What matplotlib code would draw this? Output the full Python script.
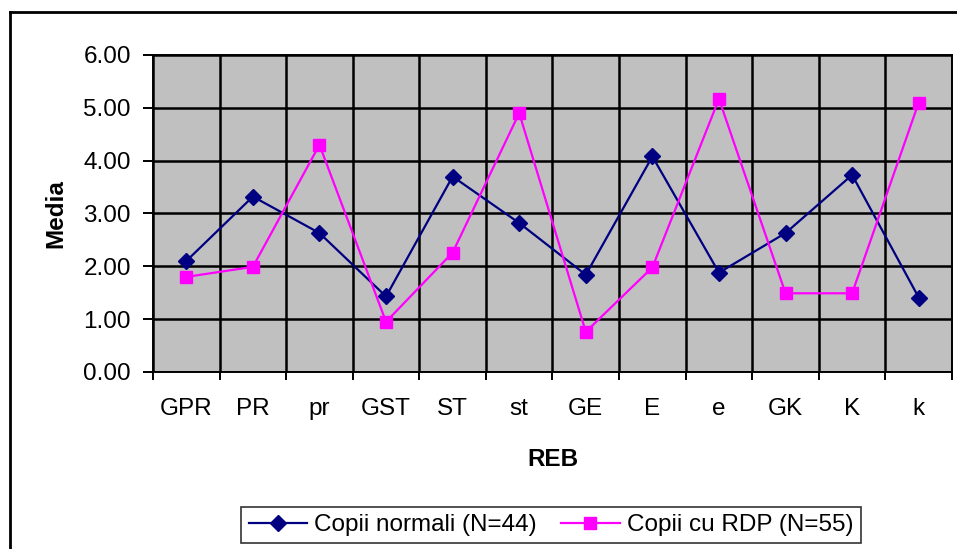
import matplotlib.pyplot as plt
import numpy as np

# Date
categorii = ['GPR', 'PR', 'pr', 'GST', 'ST', 'st', 'GE', 'E', 'e', 'GK', 'K', 'k']
normali = [2.10, 3.32, 2.63, 1.43, 3.70, 2.82, 1.84, 4.08, 1.88, 2.63, 3.73, 1.41]
rdp = [1.80, 1.99, 4.30, 0.95, 2.26, 4.90, 0.76, 1.98, 5.17, 1.49, 1.49, 5.10]
y_ticks = [0, 1, 2, 3, 4, 5, 6]

plt.rcParams['font.family'] = ['Liberation Sans', 'DejaVu Sans']
fs = 17.5

fig = plt.figure(figsize=(9.57, 5.49), dpi=100)
ax = fig.add_axes([153/957, 1-372/549, 799/957, 317/549])
ax.set_facecolor('#C0C0C0')

x = np.arange(len(categorii))
ax.plot(x, normali, color='#000080', linewidth=1.6, marker='D', markersize=8,
        label='Copii normali (N=44)', zorder=3)
ax.plot(x, rdp, color='#FF00FF', linewidth=1.6, marker='s', markersize=8.5,
        label='Copii cu RDP (N=55)', zorder=3)

ax.set_xlim(-0.5, len(categorii) - 0.5)
ax.set_ylim(0, 6)

# gridlines at category boundaries + horizontal
ax.set_xticks(np.arange(-0.5, len(categorii)), labels=[])
ax.set_xticks(x, labels=categorii, minor=True)
ax.tick_params(axis='x', which='major', direction='out', length=6, width=1.4, color='black')
ax.tick_params(axis='x', which='minor', length=0, pad=19, labelsize=fs)
ax.set_yticks(y_ticks, labels=['%.2f' % v for v in y_ticks])
ax.tick_params(axis='y', direction='out', length=7, width=1.4, pad=9, labelsize=fs)
ax.grid(True, which='major', color='black', linewidth=1.8)
ax.set_axisbelow(True)
for s in ax.spines.values():
    s.set_color('black')
    s.set_linewidth(1.4)

ax.set_ylabel('Media', fontsize=fs, fontweight='bold', labelpad=11)
ax.set_xlabel('REB', fontsize=fs, fontweight='bold', labelpad=20)

leg = fig.legend(loc='center', bbox_to_anchor=(551/957, 1-525/549), ncol=2,
                 fontsize=fs, frameon=True, fancybox=False, edgecolor='black',
                 handlelength=2.4, handletextpad=0.3, columnspacing=1.0,
                 borderpad=0.3)
leg.get_frame().set_linewidth(1.2)

# chart area border (left and top visible)
fig.add_artist(plt.Line2D([10/957, 10/957], [0, 1-12/549], color='black', linewidth=2))
fig.add_artist(plt.Line2D([10/957, 1], [1-12/549, 1-12/549], color='black', linewidth=2))

plt.savefig('out.png', dpi=100)
